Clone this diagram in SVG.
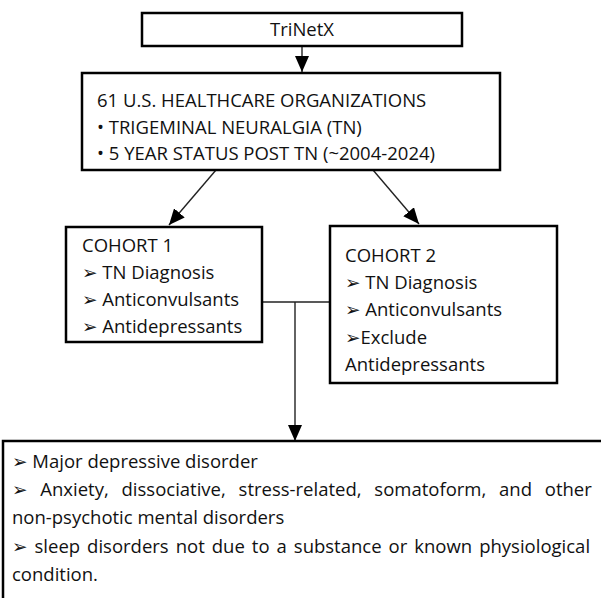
<svg xmlns="http://www.w3.org/2000/svg" width="601" height="598" viewBox="0 0 601 598">
<style>
.box{fill:#fff;stroke:#000;stroke-width:2.5}
.t{font-family:"Open Sans","Noto Sans","DejaVu Sans",sans-serif;font-size:18.5px;fill:#111}
.c{fill:none;stroke:#222;stroke-width:1.4}
</style>
<defs>
<marker id="ah" viewBox="0 0 16 14" refX="16" refY="7" markerWidth="16" markerHeight="14" markerUnits="userSpaceOnUse" orient="auto">
<path d="M0,0 L16,7 L0,14 z" fill="#000"/>
</marker>
</defs>
<rect width="601" height="598" fill="#fff"/>
<g id="connectors">
<line class="c" x1="302" y1="46" x2="302" y2="72" marker-end="url(#ah)"/>
<line class="c" x1="216" y1="170" x2="169" y2="225" marker-end="url(#ah)"/>
<line class="c" x1="373" y1="170" x2="419" y2="224" marker-end="url(#ah)"/>
<line class="c" x1="262" y1="302" x2="330" y2="302"/>
<line class="c" x1="295" y1="302" x2="295" y2="441" marker-end="url(#ah)"/>
</g>
<g id="trinetx">
<rect class="box" x="142" y="13" width="320" height="33"/>
<text class="t" x="302" y="36" text-anchor="middle">TriNetX</text>
</g>
<g id="orgs">
<rect class="box" x="82" y="73" width="418" height="97"/>
<text class="t" x="97" y="107">61 U.S. HEALTHCARE ORGANIZATIONS</text>
<text class="t" x="97" y="134">• TRIGEMINAL NEURALGIA (TN)</text>
<text class="t" x="97" y="160">• 5 YEAR STATUS POST TN (~2004-2024)</text>
</g>
<g id="cohort1">
<rect class="box" x="66" y="227" width="196" height="115"/>
<text class="t" x="82" y="252">COHORT 1</text>
<text class="t" x="82" y="279">➢ TN Diagnosis</text>
<text class="t" x="82" y="306">➢ Anticonvulsants</text>
<text class="t" x="82" y="333">➢ Antidepressants</text>
</g>
<g id="cohort2">
<rect class="box" x="330" y="226" width="227" height="157"/>
<text class="t" x="345" y="262">COHORT 2</text>
<text class="t" x="345" y="289">➢ TN Diagnosis</text>
<text class="t" x="345" y="316">➢ Anticonvulsants</text>
<text class="t" x="345" y="344">➢Exclude</text>
<text class="t" x="345" y="371">Antidepressants</text>
</g>
<g id="outcomes">
<rect class="box" x="3" y="441" width="610" height="170"/>
<text class="t" x="12" y="468">➢ Major depressive disorder</text>
<text class="t" x="12" y="496" word-spacing="8">➢ Anxiety, dissociative, stress-related, somatoform, and other</text>
<text class="t" x="12" y="524">non-psychotic mental disorders</text>
<text class="t" x="12" y="553" word-spacing="2.2">➢ sleep disorders not due to a substance or known physiological</text>
<text class="t" x="12" y="581">condition.</text>
</g>
</svg>
